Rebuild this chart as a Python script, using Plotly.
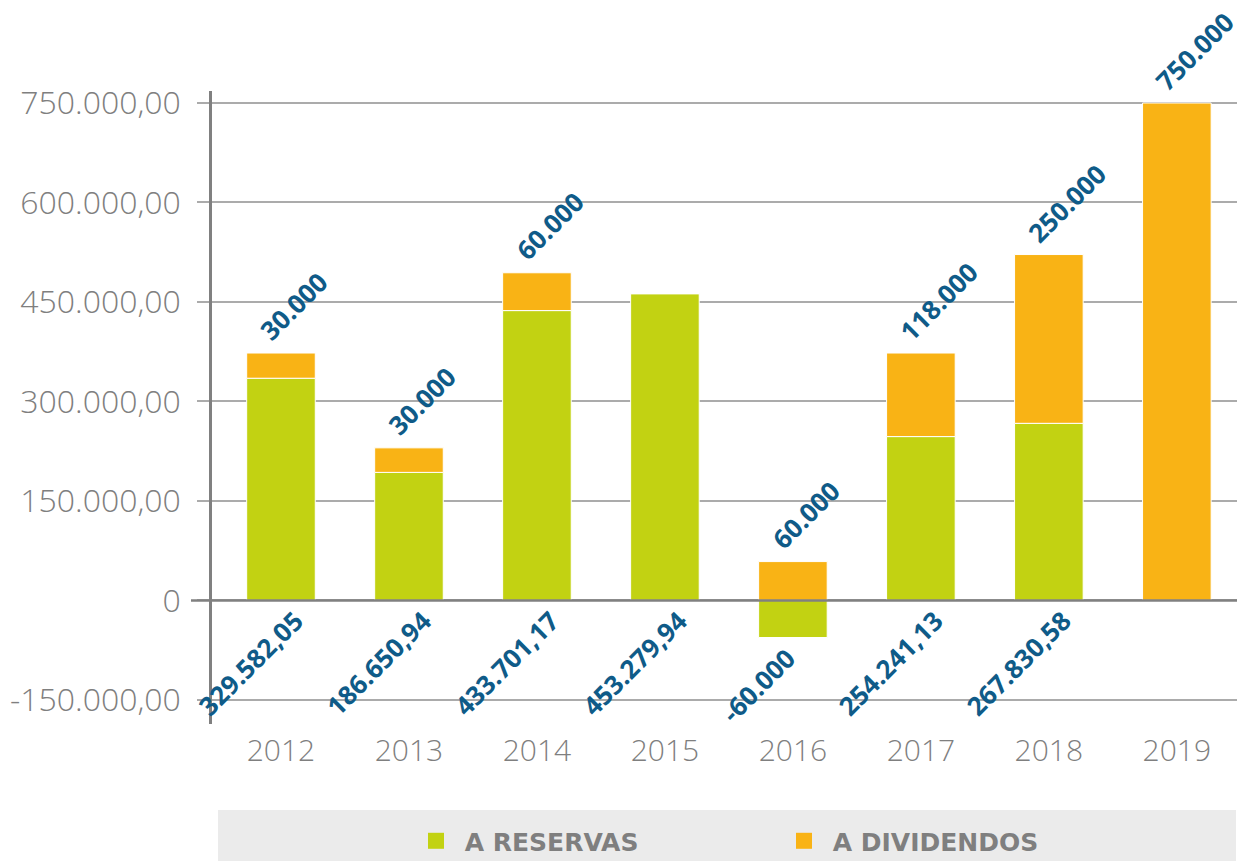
import plotly.graph_objects as go

years = ["2012", "2013", "2014", "2015", "2016", "2017", "2018", "2019"]
reservas = [335000, 193000, 437000, 462500, -56000, 247000, 267000, 0]
dividendos = [38000, 37000, 57000, 0, 58500, 126000, 254500, 750000]
reservas_labels = ["329.582,05", "186.650,94", "433.701,17", "453.279,94", "-60.000",
                   "254.241,13", "267.830,58", ""]
dividendos_labels = ["30.000", "30.000", "60.000", "", "60.000", "118.000", "250.000", "750.000"]
ytick_vals = [-150000, 0, 150000, 300000, 450000, 600000, 750000]
ytick_text = ["-150.000,00", "0", "150.000,00", "300.000,00", "450.000,00", "600.000,00", "750.000,00"]

GREEN = "#c2d212"
ORANGE = "#f9b315"
LABEL = "#0f5b88"
GREY = "#7f7f7f"

fig = go.Figure()
fig.add_trace(go.Bar(x=years, y=reservas, name="A RESERVAS", marker_color=GREEN,
                     marker_line_color="white", marker_line_width=1, showlegend=False))
fig.add_trace(go.Bar(x=years, y=dividendos, name="A DIVIDENDOS", marker_color=ORANGE,
                     marker_line_color="white", marker_line_width=1, showlegend=False))
# legend entries with larger square swatches
for nm, col in [("A RESERVAS", GREEN), ("A DIVIDENDOS", ORANGE)]:
    fig.add_trace(go.Scatter(x=[None], y=[None], mode="markers", name=" " + nm,
                             marker=dict(symbol="square", size=18, color=col)))

lab_font = dict(family="Open Sans", size=26, color=LABEL)
annotations = []
for i, y in enumerate(years):
    if reservas_labels[i]:
        base = min(0, reservas[i])
        annotations.append(dict(x=i, y=base, xref="x", yref="y", text="<b>" + reservas_labels[i] + "</b>",
                                textangle=-45, showarrow=False, xanchor="right", yanchor="top",
                                borderpad=0, borderwidth=0,
                                xshift=(30 if reservas[i] >= 0 else 10), yshift=-3, font=lab_font))
    if dividendos_labels[i]:
        top = max(0, reservas[i]) + dividendos[i]
        annotations.append(dict(x=i, y=top, xref="x", yref="y", text="<b>" + dividendos_labels[i] + "</b>",
                                textangle=-45, showarrow=False, xanchor="left", yanchor="bottom",
                                borderpad=0, borderwidth=0,
                                xshift=-29, yshift=5, font=lab_font))

shapes = [
    # legend background band
    dict(type="rect", xref="paper", yref="paper", x0=0.0059, x1=0.999, y0=-0.2164, y1=-0.1359,
         fillcolor="#ebebeb", line_width=0, layer="below"),
    # zero line extending past the axis
    dict(type="line", xref="paper", yref="y", x0=-0.0205, x1=1, y0=0, y1=0,
         line=dict(color="#808080", width=2.5)),
]

fig.update_layout(
    template="none",
    width=1238, height=853,
    margin=dict(l=204, r=9, t=83, b=137),
    paper_bgcolor="white", plot_bgcolor="white",
    barmode="relative", bargap=0.464,
    showlegend=True,
    annotations=annotations,
    shapes=shapes,
    legend=dict(orientation="h", x=0.199, xanchor="left", yref="container", y=0.0234, yanchor="middle",
                bgcolor="rgba(0,0,0,0)", entrywidth=323, itemsizing="trace",
                font=dict(family="DejaVu Sans", size=25, color=GREY, weight=700)),
    xaxis=dict(type="category", range=[-0.539, 7.47], showgrid=False, showline=False,
               ticks="", ticklabelstandoff=6, automargin=False,
               tickfont=dict(family="Open Sans", size=30, color=GREY, weight=300)),
    yaxis=dict(range=[-186400, 768100], tickvals=ytick_vals, ticktext=ytick_text,
               showgrid=True, gridcolor="#ababab", gridwidth=1.5,
               zeroline=False, showline=True, linecolor="#808080", linewidth=2.5,
               ticks="outside", ticklen=12, tickcolor="#ababab", tickwidth=1.5,
               ticklabelstandoff=10, automargin=False,
               tickfont=dict(family="Open Sans", size=32, color=GREY, weight=300)),
)

fig.write_html("out.html")
